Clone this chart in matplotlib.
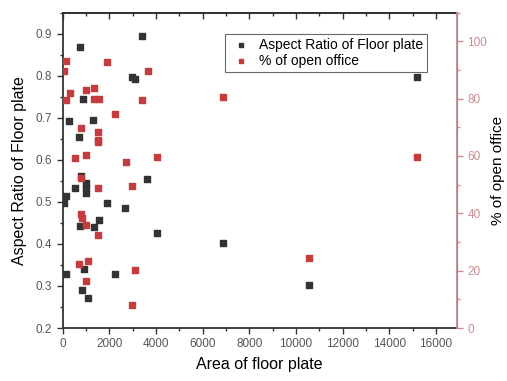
import matplotlib
matplotlib.use("Agg")
import matplotlib.pyplot as plt
from matplotlib.ticker import MultipleLocator

plt.rcParams['font.family'] = ['Liberation Sans', 'DejaVu Sans']

# aspect ratio of floor plate vs area
area_ar = [3410, 727, 2950, 3120, 870, 270, 1313, 700, 770, 513, 984, 984, 984,
           3620, 128, 57, 1882, 2665, 727, 1340, 1550, 4050, 6860, 913, 128,
           2240, 840, 1084, 15170, 10580]
aspect = [0.895, 0.869, 0.796, 0.793, 0.745, 0.693, 0.695, 0.653, 0.562, 0.534,
          0.544, 0.533, 0.521, 0.555, 0.514, 0.497, 0.498, 0.485, 0.443, 0.441,
          0.456, 0.425, 0.401, 0.341, 0.329, 0.329, 0.291, 0.272, 0.798, 0.302]

# % of open office vs area
area_oo = [128, 70, 1882, 3636, 300, 128, 1014, 1340, 1340, 1550, 3410, 6860,
           2240, 770, 1527, 1527, 1527, 513, 984, 2695, 4050, 770, 1527, 2950,
           770, 840, 984, 1527, 700, 1084, 3120, 984, 2950, 15170, 10580]
open_pct = [93, 89.8, 92.7, 89.8, 82, 79.5, 82.9, 83.6, 79.8, 80, 79.6, 80.6,
            74.8, 69.6, 68.4, 65.5, 64.7, 59.3, 60.3, 58, 59.7, 52.3, 48.9, 49.7,
            39.8, 38.4, 36.1, 32.3, 22.2, 23.3, 20.1, 16.4, 8, 59.7, 24.4]

black = '#333333'
red = '#c63b3d'
pink = '#c98c8f'
grey = '#555555'

fig = plt.figure(figsize=(5.07, 3.81), dpi=100)
ax = fig.add_axes([0.1237, 0.139, 0.7775, 0.828])
ax2 = ax.twinx()

s1 = ax.scatter(area_ar, aspect, marker='s', s=22, color=black, zorder=3,
                label='Aspect Ratio of Floor plate')
s2 = ax2.scatter(area_oo, open_pct, marker='s', s=22, color=red, zorder=3,
                 label='% of open office')

ax.set_xlim(0, 16900)
ax.set_ylim(0.2, 0.95)
ax2.set_ylim(0, 110)

ax.xaxis.set_major_locator(MultipleLocator(2000))
ax.xaxis.set_minor_locator(MultipleLocator(1000))
ax.yaxis.set_major_locator(MultipleLocator(0.1))
ax.yaxis.set_minor_locator(MultipleLocator(0.05))
ax2.yaxis.set_major_locator(MultipleLocator(20))
ax2.yaxis.set_minor_locator(MultipleLocator(10))

ax.tick_params(axis='both', which='both', direction='out', labelsize=8.5,
               labelcolor=grey, color=black, width=1)
ax.tick_params(which='major', length=4)
ax.tick_params(which='minor', length=2)

# top axis: ticks pointing inward, no labels
top = ax.secondary_xaxis('top')
top.xaxis.set_major_locator(MultipleLocator(2000))
top.xaxis.set_minor_locator(MultipleLocator(1000))
top.tick_params(which='both', direction='in', labeltop=False, color=black, width=1)
top.tick_params(which='major', length=4)
top.tick_params(which='minor', length=2)
top.spines['top'].set_linewidth(1.3)
top.spines['top'].set_color(black)

ax2.tick_params(axis='y', which='both', direction='out', labelsize=8.5,
                labelcolor=pink, color=pink, width=1)
ax2.tick_params(which='major', length=4)
ax2.tick_params(which='minor', length=2)

for sp in ['left', 'bottom', 'top']:
    ax.spines[sp].set_color(black)
    ax.spines[sp].set_linewidth(1.3)
ax2.spines['right'].set_color(pink)
ax2.spines['right'].set_linewidth(1.3)
ax2.spines['left'].set_visible(False)
ax2.spines['top'].set_visible(False)
ax2.spines['bottom'].set_visible(False)

ax.set_xlabel('Area of floor plate', fontsize=11.5, labelpad=5)
ax.set_ylabel('Aspect Ratio of Floor plate', fontsize=11.5, labelpad=6)
ax2.set_ylabel('% of open office', fontsize=11, labelpad=3, rotation=90)

leg = ax.legend([s1, s2], [s1.get_label(), s2.get_label()],
                loc='upper left', bbox_to_anchor=(0.395, 0.955), fontsize=10,
                frameon=True, fancybox=False, edgecolor='#444444',
                handletextpad=0.5, borderpad=0.3, markerscale=0.55,
                labelspacing=0.15, handlelength=1.6)
leg.get_frame().set_linewidth(0.8)
leg.set_zorder(5)

fig.savefig('out.png', dpi=100)
